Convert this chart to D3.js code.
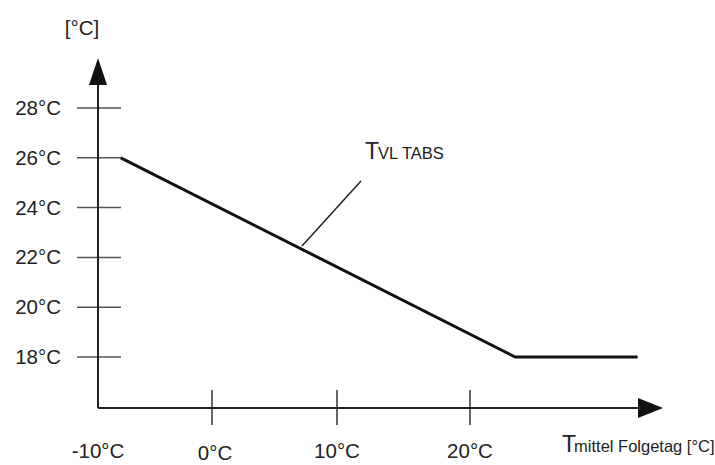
<!DOCTYPE html>
<html>
<head>
<meta charset="utf-8">
<script src="https://cdn.jsdelivr.net/npm/d3@7"></script>
<style>
  body { margin: 0; background: #fff; }
  text { font-family: "Liberation Sans", Arial, sans-serif; fill: #222; }
</style>
</head>
<body>
<svg width="715" height="465"></svg>
<script>
var svg = d3.select("svg");

// data
var xTicks = [0, 10, 20];
var xTickLabels = ["0°C", "10°C", "20°C"];
var yTicks = [18, 20, 22, 24, 26, 28];
var yTickLabels = ["18°C", "20°C", "22°C", "24°C", "26°C", "28°C"];
var curveX = [-8, 23.4, 32.6];
var curveY = [26, 18, 18];

// schematic x axis is not evenly spaced, so piecewise scale
var x = d3.scaleLinear().domain([-10, 0, 10, 20]).range([98, 212, 337, 470]);
var y = d3.scaleLinear().domain([18, 28]).range([357, 108]);

var originY = 408;

// y ticks (long horizontal stubs)
svg.append("g").selectAll("line").data(yTicks).enter().append("line")
  .attr("x1", 77).attr("x2", 121)
  .attr("y1", d => y(d)).attr("y2", d => y(d))
  .attr("stroke", "#555").attr("stroke-width", 1.5);

svg.append("g").selectAll("text").data(yTicks).enter().append("text")
  .attr("x", 61).attr("y", d => y(d) + 7)
  .attr("text-anchor", "end").attr("font-size", 20.5)
  .text((d, i) => yTickLabels[i]);

// x ticks
svg.append("g").selectAll("line").data(xTicks).enter().append("line")
  .attr("x1", d => x(d)).attr("x2", d => x(d))
  .attr("y1", 390).attr("y2", 425)
  .attr("stroke", "#333").attr("stroke-width", 1.5);

svg.append("g").selectAll("text").data(xTicks).enter().append("text")
  .attr("x", d => x(d) + (d === 0 ? 3 : 0))
  .attr("y", d => d === 0 ? 460 : 458)
  .attr("text-anchor", "middle").attr("font-size", 20.5)
  .text((d, i) => xTickLabels[i]);

svg.append("text")
  .attr("x", x(-10)).attr("y", 458)
  .attr("text-anchor", "middle").attr("font-size", 20.5)
  .text("-10°C");

// axes
svg.append("line")
  .attr("x1", x(-10)).attr("x2", 640)
  .attr("y1", originY).attr("y2", originY)
  .attr("stroke", "#222").attr("stroke-width", 2);
svg.append("line")
  .attr("x1", x(-10)).attr("x2", x(-10))
  .attr("y1", originY).attr("y2", 84)
  .attr("stroke", "#222").attr("stroke-width", 2);

// arrow heads
svg.append("path")
  .attr("d", "M638,398 L663,408 L638,418 Z").attr("fill", "#111");
svg.append("path")
  .attr("d", "M89,85 L98,58 L107,85 Z").attr("fill", "#111");

// curve
var line = d3.line().x(d => x(d[0])).y(d => y(d[1]));
svg.append("path")
  .datum(d3.zip(curveX, curveY))
  .attr("d", line)
  .attr("fill", "none").attr("stroke", "#111").attr("stroke-width", 3);

// annotation leader
svg.append("line")
  .attr("x1", 302).attr("y1", 246).attr("x2", 361).attr("y2", 181)
  .attr("stroke", "#222").attr("stroke-width", 1.5);

var lab = svg.append("text").attr("x", 365).attr("y", 159);
lab.append("tspan").attr("font-size", 23).text("T");
lab.append("tspan").attr("font-size", 16.5).attr("dx", -1).text("VL TABS");

// axis titles
svg.append("text")
  .attr("x", 82).attr("y", 35)
  .attr("text-anchor", "middle").attr("font-size", 20.5)
  .text("[°C]");

var xt = svg.append("text").attr("x", 562).attr("y", 452);
xt.append("tspan").attr("font-size", 23).text("T");
xt.append("tspan").attr("font-size", 16.5).attr("dx", -2).text("mittel Folgetag [°C]");
</script>
</body>
</html>
